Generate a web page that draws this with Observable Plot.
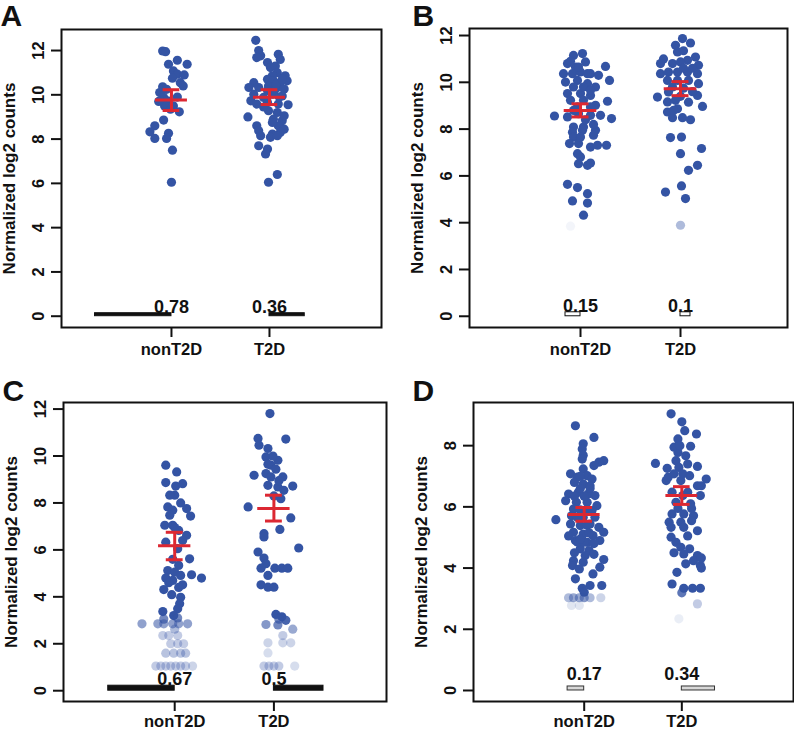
<!DOCTYPE html>
<html><head><meta charset="utf-8">
<script src="https://cdn.jsdelivr.net/npm/d3@7"></script>
<script src="https://cdn.jsdelivr.net/npm/@observablehq/plot@0.6"></script>
<style>
html,body{margin:0;padding:0;background:#fff;}
#wrap{position:relative;width:794px;height:729px;overflow:hidden;background:#fff;}
#wrap svg{position:absolute;}
</style></head><body>
<div id="wrap"></div>
<script>
// ---------- data ----------
const categories = ["nonT2D", "T2D"];
const yLabel = "Normalized log2 counts";
const ticks12 = [0, 2, 4, 6, 8, 10, 12];
const ticks8 = [0, 2, 4, 6, 8];

// points: [jitter, value, weight(optional)]
const A_nonT2D = [[-0.09,11.98],[-0.06,11.95],[-0.03,11.38],[0.06,11.56],[0.16,11.38],[0.02,11.08],[0.06,10.93],[0.13,10.9],[0.01,10.75],[0.09,10.55],[0.12,10.4],[-0.09,10.36],[-0.05,10.25],[-0.12,10.1],[-0.08,9.88],[-0.04,9.73],[-0.07,9.5],[0.02,9.5],[0.08,9.23],[-0.01,9.35],[-0.08,8.86],[-0.17,8.6],[-0.22,8.33],[-0.17,8.03],[-0.03,8.26],[-0.05,8.03],[0.01,7.5],[0.0,6.05],[-0.13,9.7],[0.06,9.9]];
const A_T2D = [[-0.14,12.46],[-0.11,12.0],[-0.09,11.76],[-0.13,11.68],[0.09,11.83],[0.11,11.6],[-0.02,11.46],[0.01,11.23],[0.06,11.3],[0.08,11.0],[0.03,10.86],[0.16,10.86],[-0.02,10.7],[0.04,10.63],[0.11,10.55],[0.18,10.63],[-0.16,10.55],[-0.21,10.33],[-0.11,10.33],[-0.01,10.4],[0.08,10.33],[0.15,10.26],[-0.16,10.03],[-0.06,9.88],[0.03,10.03],[0.13,9.95],[-0.19,9.73],[-0.13,9.58],[-0.02,9.65],[0.09,9.58],[0.19,9.55],[-0.01,9.28],[0.08,9.2],[-0.22,9.0],[0.04,8.9],[0.13,8.83],[-0.13,8.6],[0.09,8.6],[0.15,8.45],[-0.11,8.38],[0.11,8.3],[-0.09,8.15],[0.03,8.23],[0.01,8.08],[0.08,8.15],[-0.11,7.7],[-0.02,7.55],[-0.04,7.33],[-0.01,6.05],[0.08,6.4],[0.05,10.2],[0.1,9.9],[0.07,10.5],[0.13,10.7],[-0.02,10.2],[-0.06,9.45],[0.03,8.75],[0.15,9.05]];
const A_zeroFrac = [0.78, 0.36];
const A_mean = [9.77, 9.89];
const A_seLo = [9.29, 9.56];
const A_seHi = [10.23, 10.23];

const B_nonT2D = [[-0.07,11.15],[0.02,11.23],[0.05,10.87],[-0.13,10.8],[-0.05,10.65],[0.25,10.68],[-0.17,10.37],[-0.08,10.37],[0.0,10.44],[0.1,10.37],[0.18,10.3],[0.29,10.08],[-0.15,10.01],[-0.03,10.08],[0.07,9.94],[0.15,9.8],[-0.13,9.52],[0.0,9.52],[0.1,9.44],[0.27,9.19],[-0.1,9.23],[0.03,9.23],[0.15,9.02],[-0.26,8.56],[-0.13,8.52],[-0.02,8.66],[0.1,8.59],[0.2,8.59],[0.31,8.45],[-0.07,8.09],[0.03,8.09],[-0.08,7.87],[0.02,7.95],[0.15,7.95],[0.13,7.74],[-0.07,7.66],[-0.11,7.38],[-0.02,7.38],[0.1,7.23],[0.17,7.31],[0.26,7.31],[-0.03,6.95],[0.0,6.81],[-0.02,6.52],[0.07,6.45],[0.1,6.55],[-0.13,5.64],[-0.03,5.5],[0.07,5.24],[-0.08,4.93],[0.07,4.84],[0.03,4.32],[-0.07,9.8],[0.03,9.8],[0.07,10.37],[-0.03,8.95],[0.1,8.95],[-0.07,8.8],[0.05,8.4],[0.13,8.2],[0.0,7.66],[-0.1,10.9],[0.1,9.66],[-0.02,10.65],[-0.1,3.85,0.06]];
const B_T2D = [[0.02,11.87],[0.1,11.68],[-0.05,11.58],[-0.03,11.3],[-0.17,11.0],[0.07,10.94],[0.15,11.08],[-0.08,10.8],[0.0,10.87],[0.18,10.73],[-0.2,10.37],[-0.12,10.44],[-0.03,10.44],[0.07,10.44],[0.17,10.37],[-0.13,10.08],[-0.03,10.08],[0.08,10.08],[0.18,9.94],[-0.23,9.37],[-0.12,9.59],[0.17,9.44],[-0.13,9.16],[-0.05,9.23],[0.22,8.97],[-0.13,8.73],[-0.03,8.87],[-0.08,8.49],[0.02,8.49],[0.1,8.4],[-0.1,7.64],[0.01,7.66],[0.21,7.17],[0.0,6.95],[0.17,6.45],[0.08,6.24],[0.01,5.57],[-0.15,5.31],[0.05,5.03],[0.03,11.35],[0.12,10.6],[-0.08,9.8],[0.03,9.75],[0.12,9.6],[0.0,9.4],[0.08,9.15],[-0.07,8.8],[-0.2,10.8],[0.03,10.6],[0.0,3.89,0.4]];
const B_zeroFrac = [0.15, 0.1];
const B_mean = [8.8, 9.73];
const B_seLo = [8.52, 9.43];
const B_seHi = [9.08, 10.03];

const C_nonT2D = [[-0.09,9.61],[0.02,9.32],[-0.09,8.87],[0.01,8.72],[0.08,8.82],[0.0,8.33],[-0.05,8.33],[-0.07,7.83],[-0.02,7.69],[0.12,7.76],[0.16,7.44],[-0.05,7.48],[-0.1,7.05],[-0.02,7.05],[0.04,6.83],[0.12,6.62],[0.08,6.4],[-0.09,6.33],[0.03,6.05],[0.15,5.62],[0.04,5.34],[-0.07,5.12],[0.0,5.05],[0.06,4.91],[0.17,4.94],[0.27,4.8],[-0.09,4.8],[-0.02,4.7],[0.08,4.51],[-0.11,4.31],[-0.03,4.09],[0.06,3.98],[0.05,3.7],[0.03,3.49],[-0.12,3.37],[-0.01,3.2],[0.0,6.95],[0.06,8.0],[-0.02,5.6],[0.04,4.4],[-0.06,4.6],
 [-0.11,3.05,0.7],[0.03,3.1,0.7],
 [-0.33,2.85,0.55],[-0.17,2.85,0.55],[-0.11,2.85,0.55],[-0.02,2.85,0.55],[0.04,2.85,0.55],[0.13,2.85,0.55],[0.0,2.62,0.4],
 [-0.12,2.35,0.3],[-0.06,2.35,0.3],[0.03,2.35,0.3],
 [-0.04,2.0,0.3],[0.03,2.0,0.3],[0.09,2.0,0.3],
 [-0.09,1.6,0.35],[-0.01,1.6,0.35],[0.06,1.6,0.35],[0.11,1.6,0.35],
 [-0.19,1.05,0.3],[-0.14,1.05,0.3],[-0.09,1.05,0.3],[-0.04,1.05,0.3],[0.01,1.05,0.3],[0.06,1.05,0.3],[0.11,1.05,0.3],[0.18,1.05,0.25]];
const C_T2D = [[-0.04,11.81],[-0.16,10.75],[0.12,10.72],[-0.15,10.46],[-0.06,10.32],[-0.08,9.96],[0.04,9.82],[-0.03,9.61],[0.02,9.44],[-0.08,9.25],[-0.2,9.18],[0.09,9.11],[-0.03,9.11],[-0.06,8.75],[0.04,8.68],[0.19,8.72],[0.1,8.54],[0.07,8.18],[-0.26,7.83],[0.17,7.36],[0.06,6.87],[-0.1,6.69],[-0.1,6.55],[0.25,6.08],[-0.16,5.91],[-0.1,5.65],[-0.08,5.41],[-0.13,5.22],[0.01,5.22],[0.08,5.22],[0.14,5.22],[-0.06,4.91],[-0.13,4.51],[-0.06,4.41],[0.0,4.41],[-0.01,10.0],[-0.06,9.65],[0.05,8.95],[0.0,8.3],
 [0.02,3.25],[0.08,3.15],[0.12,3.0,0.9],[0.05,3.05,0.7],
 [-0.08,2.82,0.6],[0.04,2.8,0.7],[0.19,2.62,0.5],[0.09,2.35,0.3],
 [-0.06,2.04,0.25],[0.09,2.04,0.25],[0.17,2.04,0.25],[-0.06,1.61,0.2],
 [-0.1,1.05,0.3],[-0.05,1.05,0.3],[0.0,1.05,0.3],[0.05,1.05,0.3],[0.21,1.05,0.2]];
const C_zeroFrac = [0.67, 0.5];
const C_mean = [6.18, 7.76];
const C_seLo = [5.58, 7.23];
const C_seHi = [6.75, 8.33];

const D_nonT2D = [[-0.09,8.65],[0.1,8.27],[-0.01,8.06],[-0.02,7.89],[-0.01,7.69],[-0.02,7.56],[0.2,7.51],[0.15,7.46],[0.1,7.35],[-0.01,7.24],[-0.14,7.08],[-0.07,6.97],[0.03,7.02],[0.08,6.91],[-0.1,6.8],[-0.01,6.75],[0.06,6.69],[-0.16,6.42],[-0.06,6.48],[0.04,6.42],[0.11,6.37],[-0.19,6.2],[-0.08,6.15],[0.03,6.15],[0.13,6.04],[-0.11,5.93],[0.08,5.88],[-0.29,5.58],[-0.13,5.71],[-0.01,5.66],[0.11,5.66],[-0.14,5.44],[-0.04,5.39],[0.06,5.44],[0.15,5.33],[0.2,5.17],[-0.11,5.17],[-0.01,5.11],[0.09,5.06],[-0.09,4.9],[0.03,4.84],[0.16,4.9],[-0.04,4.63],[0.05,4.57],[0.01,4.41],[-0.01,4.19],[-0.11,4.24],[0.2,4.28],[-0.12,4.08],[-0.05,3.97],[0.16,4.03],[0.09,3.81],[-0.09,3.65],[0.06,3.43],[0.18,3.43],[-0.02,3.34],[0.0,3.21],
 [-0.04,7.0],[-0.04,6.6],[0.06,6.6],[-0.1,6.35],[0.0,6.35],[-0.04,5.9],[0.03,5.85],[-0.07,5.66],[0.03,5.4],[-0.07,4.85],[0.1,4.8],[0.0,4.85],[-0.1,4.5],[0.1,4.45],[-0.04,4.95],[0.05,5.15],[-0.16,5.05],
 [-0.16,3.03,0.4],[-0.11,3.03,0.5],[-0.05,3.03,0.5],[0.0,3.03,0.6],[0.06,3.03,0.4],[0.17,3.03,0.25],[-0.13,2.78,0.15],[-0.05,2.78,0.15]];
const D_T2D = [[-0.11,9.04],[0.0,8.78],[0.03,8.49],[0.15,8.38],[-0.04,8.22],[0.09,7.98],[-0.08,7.95],[-0.04,7.78],[0.04,7.67],[-0.27,7.42],[-0.06,7.51],[0.06,7.4],[-0.15,7.26],[-0.03,7.29],[0.16,7.32],[-0.08,7.08],[0.08,7.02],[0.25,6.91],[-0.16,6.86],[-0.01,6.86],[0.16,6.69],[0.06,6.48],[-0.1,6.48],[0.19,6.37],[-0.06,6.15],[0.09,6.1],[-0.1,5.77],[0.02,5.77],[0.12,5.71],[-0.13,5.5],[-0.01,5.5],[0.1,5.55],[-0.11,5.33],[0.02,5.33],[0.16,5.22],[-0.11,5.01],[-0.06,4.84],[-0.01,4.68],[0.08,4.63],[0.16,4.41],[0.02,4.46],[0.12,4.24],[0.04,4.14],[0.19,4.08],[-0.05,3.86],[-0.1,3.48],[0.02,3.34],[0.11,3.34],[0.19,3.34],
 [-0.02,8.0],[0.01,7.08],[0.01,6.37],[0.1,5.95],[-0.04,5.95],[0.06,5.05],[-0.08,4.5],[-0.14,6.97],[0.2,6.69],[0.2,4.33],[0.2,4.0],
 [0.0,3.19,0.8],[0.16,2.83,0.3],[-0.03,2.34,0.1]];
const D_zeroFrac = [0.17, 0.34];
const D_mean = [5.75, 6.37];
const D_seLo = [5.53, 6.08];
const D_seHi = [5.98, 6.66];

// ---------- styles ----------
const BLUE = "#3454a4";
const RED = "#dc2832";
const INK = "#111";
const FONT = "'Liberation Sans', Arial, Helvetica, sans-serif";
const MEAN_HALF = 0.163, CAP_HALF = 0.085;

const panels = [
  {letter:"A", left:0, top:0, w:397, h:365, ml:61, mr:16, mt:29, mb:38, xd:[-0.122,3.143], yd:[-0.51,12.95], ticks:ticks12,
   groups:[A_nonT2D, A_T2D], frac:A_zeroFrac, mean:A_mean, lo:A_seLo, hi:A_seHi, barFill:INK, barStroke:INK, barPx:3, labelOff:3, ldx:-61, ldy:-4, xPad:6},
  {letter:"B", left:397, top:0, w:397, h:365, ml:72, mr:7, mt:28, mb:38, xd:[-0.11,3.07], yd:[-0.48,12.3], ticks:ticks12,
   groups:[B_nonT2D, B_T2D], frac:B_zeroFrac, mean:B_mean, lo:B_seLo, hi:B_seHi, barFill:"#fff", barStroke:INK, barPx:4, labelOff:4, ldx:-57, ldy:-3, xPad:6},
  {letter:"C", left:0, top:365, w:397, h:364, ml:63, mr:11, mt:37, mb:28, xd:[-0.121,3.135], yd:[-0.46,12.28], ticks:ticks12,
   groups:[C_nonT2D, C_T2D], frac:C_zeroFrac, mean:C_mean, lo:C_seLo, hi:C_seHi, barFill:INK, barStroke:INK, barPx:5, labelOff:5.5, ldx:-61, ldy:-2, xPad:4},
  {letter:"D", left:397, top:365, w:397, h:364, ml:76, mr:1, mt:37, mb:28, xd:[-0.134,3.144], yd:[-0.36,9.41], ticks:ticks8,
   groups:[D_nonT2D, D_T2D], frac:D_zeroFrac, mean:D_mean, lo:D_seLo, hi:D_seHi, barFill:"#d8d8d8", barStroke:"#333", barPx:4, labelOff:10, ldx:-61, ldy:-2, xPad:4}
];

const wrap = document.getElementById("wrap");
for (const p of panels) {
  const pts = [];
  p.groups.forEach((grp, i) => grp.forEach(d => pts.push({g: i + 1, j: d[0], v: d[1], a: d.length > 2 ? d[2] : 1})));
  const bars = p.frac.map((f, i) => ({g: i + 1, f, label: String(f)}));
  const err = p.mean.map((m, i) => ({g: i + 1, m, lo: p.lo[i], hi: p.hi[i]}));
  const svg = Plot.plot({
    width: p.w, height: p.h,
    marginLeft: p.ml, marginRight: p.mr, marginTop: p.mt, marginBottom: p.mb,
    style: {fontFamily: FONT, color: INK, background: "transparent", overflow: "visible"},
    x: {domain: p.xd, axis: null},
    y: {domain: p.yd, axis: null},
    opacity: {domain: [0, 1], range: [0, 1]},
    marks: [
      Plot.dot(pts, {x: d => d.g + d.j, y: "v", r: 4.6, fill: BLUE, fillOpacity: "a", stroke: "none"}),
      Plot.rect(bars, {x1: d => d.g === 1 ? d.g - d.f : d.g, x2: d => d.g === 1 ? d.g : d.g + d.f, y1: 0, y2: 0,
        insetTop: -p.barPx, fill: p.barFill, stroke: p.barStroke, strokeWidth: 1}),
      Plot.text(bars, {x: "g", y: 0, text: "label", dy: -p.labelOff, lineAnchor: "bottom", fontSize: 18, fontWeight: "bold", fill: INK}),
      Plot.ruleX(err, {x: "g", y1: "lo", y2: "hi", stroke: RED, strokeWidth: 3}),
      Plot.ruleY(err, {y: "m", x1: d => d.g - MEAN_HALF, x2: d => d.g + MEAN_HALF, stroke: RED, strokeWidth: 3}),
      Plot.ruleY(err, {y: "lo", x1: d => d.g - CAP_HALF, x2: d => d.g + CAP_HALF, stroke: RED, strokeWidth: 3}),
      Plot.ruleY(err, {y: "hi", x1: d => d.g - CAP_HALF, x2: d => d.g + CAP_HALF, stroke: RED, strokeWidth: 3}),
      Plot.frame({stroke: INK, strokeWidth: 2}),
      Plot.axisY({ticks: p.ticks, tickSize: 10, tickPadding: 7.5, tickRotate: -90, tickFormat: d => String(d),
        fontSize: 16.5, fontWeight: "bold", stroke: INK, strokeWidth: 2, fill: INK, label: null}),
      Plot.axisX({ticks: [1, 2], tickSize: 10, tickPadding: p.xPad, tickFormat: d => categories[d - 1],
        fontSize: 16.5, fontWeight: "bold", stroke: INK, strokeWidth: 2, fill: INK, label: null}),
      Plot.text([yLabel], {frameAnchor: "left", dx: -47, rotate: -90, lineAnchor: "bottom", textAnchor: "middle",
        fontSize: 17, fontWeight: "bold", fill: INK}),
      Plot.text([p.letter], {frameAnchor: "top-left", dx: p.ldx, dy: p.ldy, textAnchor: "start", lineAnchor: "bottom",
        fontSize: 30, fontWeight: "bold", fill: INK})
    ]
  });
  svg.style.left = p.left + "px";
  svg.style.top = p.top + "px";
  wrap.appendChild(svg);
}
</script>
</body></html>
